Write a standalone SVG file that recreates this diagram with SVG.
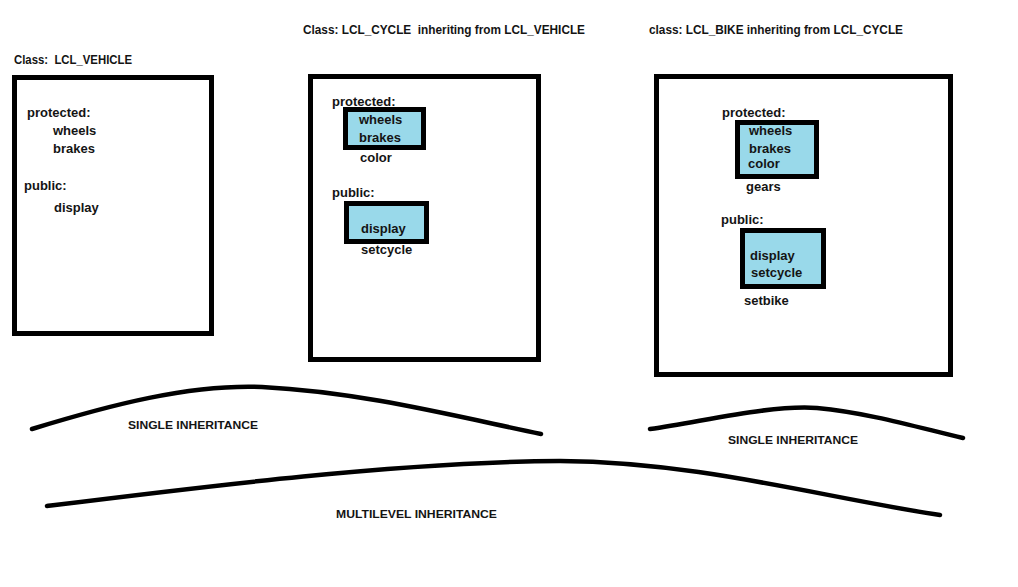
<svg xmlns="http://www.w3.org/2000/svg" width="1018" height="587" viewBox="0 0 1018 587">
<style>
text{font-family:"Liberation Sans",Arial,sans-serif;font-weight:bold;font-size:13px;fill:#141414}
.t{font-size:12px;white-space:pre}
.lab{font-size:11px}
.cls{fill:#fff;stroke:#000;stroke-width:5}
.inh{fill:#99d9ea;stroke:#000;stroke-width:5}
.curve{fill:none;stroke:#000;stroke-width:4.5;stroke-linecap:round}
</style>
<rect width="1018" height="587" fill="#fff"/>
<g id="vehicle">
<text class="t" x="14" y="64" textLength="118" lengthAdjust="spacingAndGlyphs" xml:space="preserve">Class:  LCL_VEHICLE</text>
<rect class="cls" x="14.5" y="77.5" width="197" height="256"/>
<text x="27" y="117">protected:</text>
<text x="53" y="135">wheels</text>
<text x="53" y="153">brakes</text>
<text x="24" y="190">public:</text>
<text x="54" y="212">display</text>
</g>
<g id="cycle">
<text class="t" x="303" y="34" textLength="282" lengthAdjust="spacingAndGlyphs" xml:space="preserve">Class: LCL_CYCLE  inheriting from LCL_VEHICLE</text>
<rect class="cls" x="310.5" y="76.5" width="228" height="283"/>
<text x="332" y="106">protected:</text>
<rect class="inh" x="345.5" y="109.5" width="78" height="38"/>
<text x="359" y="124">wheels</text>
<text x="359" y="142">brakes</text>
<text x="360" y="162">color</text>
<text x="332" y="197">public:</text>
<rect class="inh" x="346.5" y="203.5" width="80" height="38"/>
<text x="361" y="233">display</text>
<text x="361" y="254">setcycle</text>
</g>
<g id="bike">
<text class="t" x="649" y="34" textLength="254" lengthAdjust="spacingAndGlyphs">class: LCL_BIKE inheriting from LCL_CYCLE</text>
<rect class="cls" x="656.5" y="76.5" width="294" height="298"/>
<text x="722" y="117">protected:</text>
<rect class="inh" x="737.5" y="122.5" width="79" height="54"/>
<text x="749" y="135">wheels</text>
<text x="749" y="153">brakes</text>
<text x="748" y="168">color</text>
<text x="746" y="191">gears</text>
<text x="721" y="224">public:</text>
<rect class="inh" x="742.5" y="230.5" width="81" height="56"/>
<text x="750" y="260">display</text>
<text x="751" y="277">setcycle</text>
<text x="744" y="305">setbike</text>
</g>
<g id="connectors">
<path class="curve" d="M32,429 C110,405 190,384 262,387 C360,392 450,415 541,434"/>
<path class="curve" d="M650,429 C710,420 770,405 817,408 C870,413 920,428 963,438"/>
<path class="curve" d="M47,506 C200,487 400,462 560,461 C700,462 820,497 940,515"/>
<text class="lab" x="128" y="429" textLength="130" lengthAdjust="spacingAndGlyphs">SINGLE INHERITANCE</text>
<text class="lab" x="728" y="444" textLength="130" lengthAdjust="spacingAndGlyphs">SINGLE INHERITANCE</text>
<text class="lab" x="336" y="518" textLength="161" lengthAdjust="spacingAndGlyphs">MULTILEVEL INHERITANCE</text>
</g>
</svg>
